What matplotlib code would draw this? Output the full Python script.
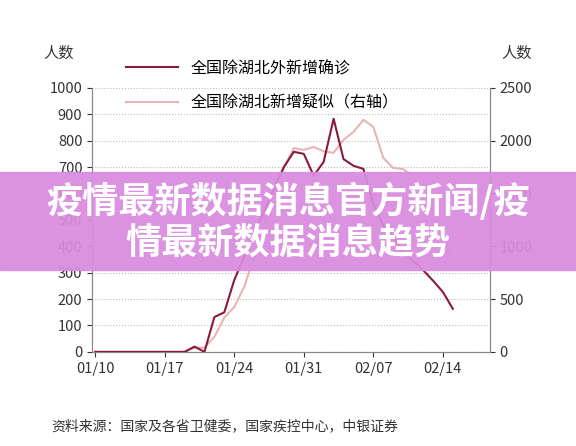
import numpy as np
import matplotlib.pyplot as plt
from matplotlib.patches import Rectangle

plt.rcParams['font.family'] = ['Noto Sans CJK SC', 'DejaVu Sans']

# days since 01/10
days_dark = list(range(0, 37))
dark = [0, 0, 0, 0, 0, 0, 0, 0, 0, 0, 20, 0, 132, 150, 272, 360, 450, 530, 620, 700,
        758, 750, 667, 720, 883, 730, 705, 693, 560, 480, 440, 375, 345, 310, 270, 227, 163]
light = [0, 0, 0, 0, 0, 0, 0, 0, 0, 0, 40, 40, 142, 325, 425, 615, 900, 1200, 1500, 1750,
         1930, 1913, 1940, 1900, 1885, 2008, 2083, 2197, 2130, 1837, 1742, 1730, 1667, 1450,
         1300, 1127, 890]
tick_pos = [0, 7, 14, 21, 28, 35]
tick_lab = ['01/10', '01/17', '01/24', '01/31', '02/07', '02/14']

fig = plt.figure(figsize=(5.76, 4.46), dpi=100)
ax = fig.add_axes([0.16, 0.211, 0.69, 0.592])
ax2 = ax.twinx()

ax.plot(days_dark, dark, color='#8B1A3A', lw=1.5, label='全国除湖北外新增确诊', zorder=3)
ax2.plot(days_dark, light, color='#E8B4B4', lw=1.5, label='全国除湖北新增疑似（右轴）')

ax.set_xlim(-0.3, 39.7)
ax.set_ylim(0, 1000)
ax2.set_ylim(0, 2500)
ax.set_yticks(range(0, 1001, 100))
ax2.set_yticks(range(0, 2501, 500))
ax.set_xticks(tick_pos)
ax.set_xticklabels(tick_lab)
ax.grid(axis='y', ls=':', color='#bbbbbb', lw=0.8)
ax.set_zorder(ax2.get_zorder() + 1)
ax.patch.set_visible(False)
for a in (ax, ax2):
    a.tick_params(labelsize=10.5, colors='#333333', direction='out')
    a.spines['top'].set_visible(False)
    for s in a.spines.values():
        s.set_color('#888888')

h1, l1 = ax.get_legend_handles_labels()
h2, l2 = ax2.get_legend_handles_labels()
ax.legend(h1 + h2, l1 + l2, loc='upper left', bbox_to_anchor=(0.05, 1.16), frameon=False,
          fontsize=11.5, handlelength=3.2, labelspacing=1.1)

fig.text(0.075, 0.87, '人数', fontsize=11, color='#333333')
fig.text(0.87, 0.87, '人数', fontsize=11, color='#333333')
fig.text(0.09, 0.035, '资料来源：国家及各省卫健委，国家疾控中心，中银证券', fontsize=10,
         style='italic', color='#333333')

fig.patches.append(Rectangle((0, 0.395), 1, 0.22, transform=fig.transFigure,
                             color='#D98BDF', alpha=0.93, zorder=10))
fig.text(0.5, 0.548, '疫情最新数据消息官方新闻/疫', ha='center', va='center', fontsize=26,
         weight='bold', color='white', zorder=11)
fig.text(0.5, 0.455, '情最新数据消息趋势', ha='center', va='center', fontsize=26,
         weight='bold', color='white', zorder=11)

fig.savefig('out.png', dpi=100)
